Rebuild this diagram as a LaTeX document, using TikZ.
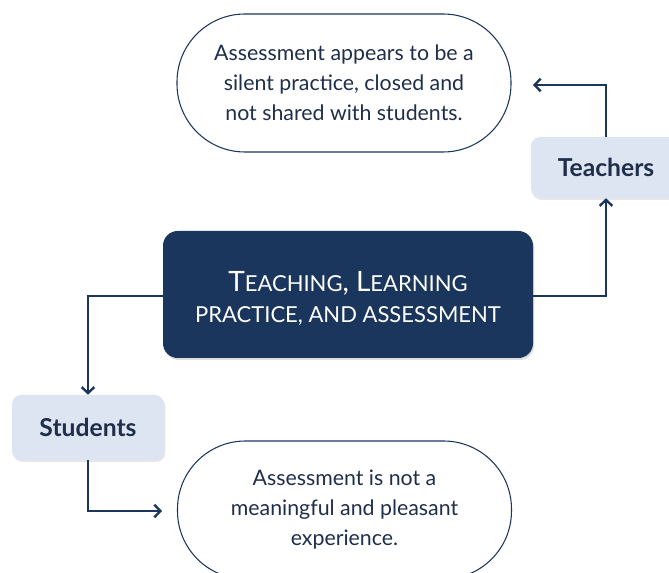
\documentclass[tikz,border=0pt]{standalone}
\usepackage{fontspec}
\setmainfont{Lato}
\usetikzlibrary{arrows.meta,shadows}
\definecolor{navy}{HTML}{1B365D}
\definecolor{inkc}{HTML}{1F2E4A}
\definecolor{pale}{HTML}{DCE5F1}
\tikzset{
  stadium/.style={draw=navy, line width=0.8pt, rounded corners=51pt, minimum width=334*0.75pt, minimum height=138*0.75pt, align=center, text=inkc, font=\fontsize{16}{22.5}\selectfont},
  mainbox/.style={fill=navy, rounded corners=11pt, minimum width=370*0.75pt, minimum height=127*0.75pt, align=center, text=white, drop shadow={opacity=0.25, shadow xshift=1pt, shadow yshift=-1.5pt}},
  rolebox/.style={fill=pale, rounded corners=7pt, align=center, text=inkc, font=\fontsize{18.5}{22}\selectfont\bfseries, drop shadow={opacity=0.2, shadow xshift=1pt, shadow yshift=-1.5pt}},
  conn/.style={draw=navy, line width=1.8pt, -{Straight Barb[length=4.5pt,width=9.5pt,line width=1.8pt]}}
}
\newcommand{\bigc}[1]{{\fontsize{21}{24}\selectfont #1}}
\newcommand{\smc}[1]{{\fontsize{16.5}{24}\selectfont #1}}
\begin{document}
\begin{tikzpicture}[x=0.75pt,y=-0.75pt]
\useasboundingbox (0,0) rectangle (669,573);
\begin{scope}
\clip (0,0) rectangle (669,573);
\node[stadium] (top) at (344,83) {Assessment appears to be a\\silent practice, closed and\\not shared with students.};
\node[stadium] (bot) at (344.5,510) {Assessment is not a\\meaningful and pleasant\\experience.};
\node[mainbox, label={[text=white, align=center, yshift=-3pt]center:\bigc{T}\smc{EACHING}\bigc{, L}\smc{EARNING}\\[8pt]\smc{PRACTICE, AND ASSESSMENT}}] (main) at (348,294.5) {};
\node[rolebox, minimum width=150*0.75pt, minimum height=61*0.75pt] (teach) at (606,167.5) {Teachers};
\node[rolebox, minimum width=152*0.75pt, minimum height=65*0.75pt] (stud) at (88,427.5) {Students};
\coordinate (tl) at (533,85);
\coordinate (br) at (162,511);
\end{scope}
\draw[conn] (main.west |- 0,296) -| (stud.north);
\draw[conn] (main.east |- 0,296) -| (teach.south);
\draw[conn] (teach.north) |- (tl);
\draw[conn] (stud.south) |- (br);
\end{tikzpicture}
\end{document}
